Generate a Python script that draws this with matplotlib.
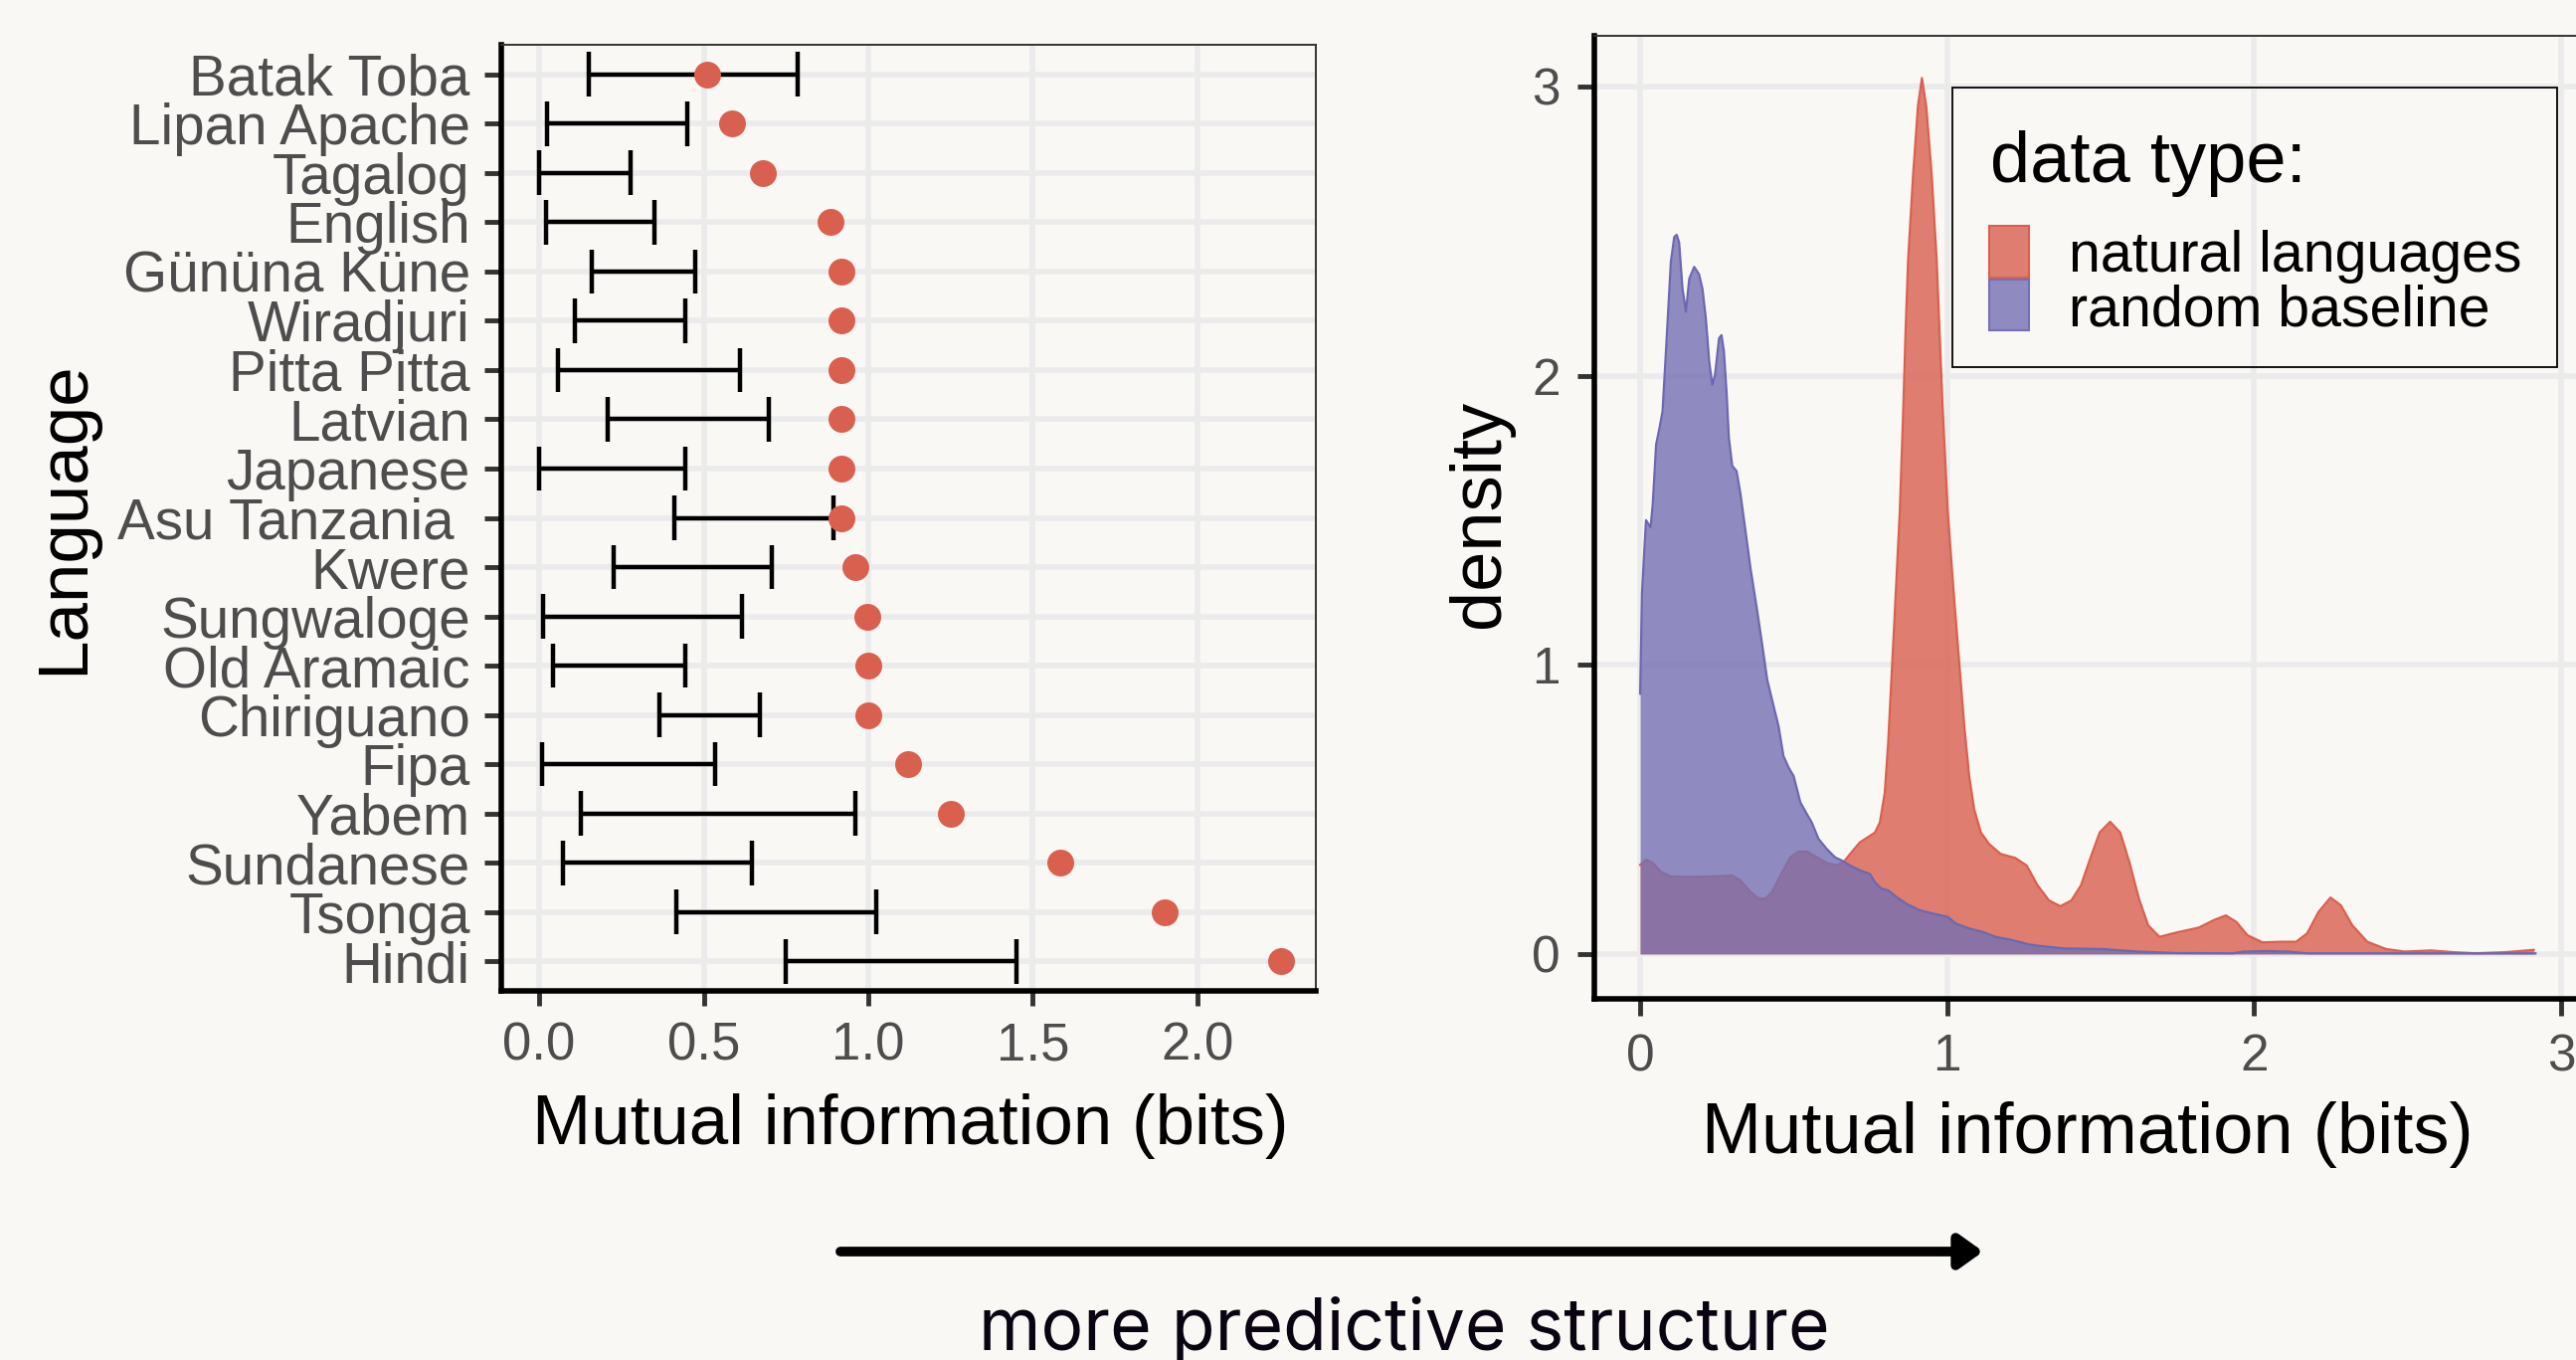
import matplotlib
matplotlib.use('Agg')
from matplotlib import pyplot as plt
from matplotlib.patches import Rectangle, FancyArrowPatch
from matplotlib.colors import to_rgba

plt.rcParams['font.family'] = ['Liberation Sans', 'DejaVu Sans']

# left panel: per-language mutual information with baseline range
languages = ['Batak Toba', 'Lipan Apache', 'Tagalog', 'English', 'Gününa Küne',
             'Wiradjuri', 'Pitta Pitta', 'Latvian', 'Japanese', 'Asu Tanzania ',
             'Kwere', 'Sungwaloge', 'Old Aramaic', 'Chiriguano', 'Fipa', 'Yabem',
             'Sundanese', 'Tsonga', 'Hindi']
mi_value = [0.51, 0.585, 0.68, 0.886, 0.92, 0.92, 0.92, 0.92, 0.92, 0.92,
            0.961, 0.997, 1.0, 1.0, 1.12, 1.25, 1.583, 1.90, 2.254]
baseline_lo = [0.15, 0.025, 0.0, 0.022, 0.16, 0.11, 0.058, 0.209, 0.0, 0.412,
               0.227, 0.012, 0.043, 0.365, 0.009, 0.126, 0.071, 0.417, 0.75]
baseline_hi = [0.785, 0.449, 0.277, 0.35, 0.475, 0.443, 0.61, 0.698, 0.443, 0.893,
               0.706, 0.615, 0.443, 0.672, 0.534, 0.96, 0.646, 1.023, 1.45]

# right panel: density curves
nl_x = [0.0, 0.020, 0.041, 0.068, 0.100, 0.154, 0.241, 0.300, 0.327, 0.360,
        0.386, 0.408, 0.430, 0.457, 0.489, 0.516, 0.543, 0.576, 0.608, 0.640,
        0.662, 0.689, 0.716, 0.738, 0.765, 0.781, 0.797, 0.808, 0.819, 0.830,
        0.846, 0.857, 0.865, 0.873, 0.889, 0.905, 0.918, 0.932, 0.950, 0.966,
        0.975, 0.986, 1.002, 1.020, 1.040, 1.056, 1.072, 1.088, 1.110, 1.137,
        1.174, 1.222, 1.259, 1.295, 1.332, 1.369, 1.405, 1.436, 1.466, 1.497,
        1.531, 1.564, 1.594, 1.625, 1.655, 1.692, 1.747, 1.820, 1.869, 1.908,
        1.942, 1.978, 2.027, 2.088, 2.137, 2.173, 2.210, 2.249, 2.283, 2.320,
        2.369, 2.430, 2.490, 2.576, 2.649, 2.722, 2.820, 2.911]
nl_y = [0.308, 0.326, 0.315, 0.283, 0.268, 0.266, 0.268, 0.271, 0.254, 0.214,
        0.191, 0.191, 0.214, 0.271, 0.334, 0.354, 0.354, 0.334, 0.315, 0.306,
        0.317, 0.352, 0.386, 0.401, 0.420, 0.455, 0.558, 0.730, 0.959, 1.189,
        1.533, 1.877, 2.163, 2.40, 2.69, 2.932, 3.029, 2.932, 2.69, 2.40,
        2.163, 1.877, 1.533, 1.27, 1.0, 0.787, 0.615, 0.501, 0.420, 0.38,
        0.346, 0.332, 0.306, 0.237, 0.185, 0.165, 0.185, 0.237, 0.329, 0.420,
        0.457, 0.420, 0.317, 0.191, 0.099, 0.059, 0.074, 0.091, 0.117, 0.133,
        0.111, 0.065, 0.040, 0.042, 0.042, 0.071, 0.145, 0.195, 0.168, 0.099,
        0.042, 0.017, 0.008, 0.012, 0.006, 0.002, 0.006, 0.014]
rb_x = [0.0, 0.006, 0.019, 0.034, 0.041, 0.052, 0.063, 0.073, 0.084, 0.100,
        0.111, 0.119, 0.127, 0.138, 0.149, 0.160, 0.176, 0.192, 0.203, 0.214,
        0.225, 0.235, 0.244, 0.257, 0.265, 0.273, 0.282, 0.289, 0.300, 0.314,
        0.327, 0.343, 0.360, 0.381, 0.397, 0.414, 0.435, 0.451, 0.467, 0.484,
        0.500, 0.522, 0.543, 0.559, 0.581, 0.608, 0.635, 0.657, 0.684, 0.716,
        0.748, 0.765, 0.786, 0.808, 0.835, 0.867, 0.910, 0.953, 1.002, 1.029,
        1.072, 1.116, 1.158, 1.212, 1.266, 1.299, 1.381, 1.503, 1.625, 1.747,
        1.930, 1.966, 2.039, 2.112, 2.173, 2.917]
rb_y = [0.90, 1.25, 1.50, 1.475, 1.556, 1.762, 1.819, 1.877, 2.084, 2.393,
        2.479, 2.487, 2.46, 2.30, 2.221, 2.335, 2.376, 2.35, 2.30, 2.198,
        2.049, 1.968, 2.003, 2.129, 2.14, 2.083, 1.934, 1.785, 1.688, 1.670,
        1.590, 1.464, 1.33, 1.189, 1.074, 0.948, 0.856, 0.787, 0.684, 0.644,
        0.615, 0.524, 0.484, 0.455, 0.398, 0.363, 0.334, 0.323, 0.306, 0.289,
        0.277, 0.248, 0.226, 0.220, 0.197, 0.174, 0.151, 0.140, 0.128, 0.105,
        0.088, 0.076, 0.059, 0.048, 0.033, 0.028, 0.019, 0.017, 0.008, 0.003,
        0.002, 0.008, 0.010, 0.008, 0.002, 0.002]

bg = '#FAF8F5'
red = '#D9604F'
purple = '#7570B3'
grid_col = '#EBEBEB'
tick_col = '#4D4D4D'

W, H = 2590, 1367
def fx(px):
    return px / W
def fy(py):
    return 1 - py / H

fig = plt.figure(figsize=(W / 100, H / 100), dpi=100, facecolor=bg)

def style_axes(ax):
    ax.set_facecolor(bg)
    ax.set_axisbelow(True)
    ax.grid(True, color=grid_col, lw=4)
    for side in ['top', 'right']:
        ax.spines[side].set_linewidth(1.4)
        ax.spines[side].set_color('#333333')
    for side in ['left', 'bottom']:
        ax.spines[side].set_linewidth(4)
        ax.spines[side].set_color('black')

# Left panel
ax1 = fig.add_axes([fx(504), fy(996), 819 / W, 951 / H])
style_axes(ax1)
ypos = list(range(len(languages)))
ax1.hlines(ypos, baseline_lo, baseline_hi, color='black', lw=3.2, zorder=2)
ax1.vlines(baseline_lo, [y - 0.45 for y in ypos], [y + 0.45 for y in ypos], color='black', lw=3.2, zorder=2)
ax1.vlines(baseline_hi, [y - 0.45 for y in ypos], [y + 0.45 for y in ypos], color='black', lw=3.2, zorder=2)
ax1.scatter(mi_value, ypos, s=377, color=red, linewidths=0, zorder=3)
ax1.set_xlim(-0.115, 2.36)
ax1.set_ylim(18.6, -0.6)
ax1.set_yticks(ypos)
ax1.set_yticklabels(languages)
ax1.set_xticks([0.0, 0.5, 1.0, 1.5, 2.0])
ax1.set_xticklabels(['0.0', '0.5', '1.0', '1.5', '2.0'])
ax1.tick_params(axis='y', length=12, width=3.5, color='#333333', pad=10.5, labelsize=40.8, labelcolor=tick_col)
ax1.tick_params(axis='x', length=11, width=3.5, color='#333333', pad=11, labelsize=38, labelcolor=tick_col)
ax1.set_xlabel('Mutual information (bits)', fontsize=51, color='black')
ax1.xaxis.set_label_coords(0.502, -0.108)
ax1.set_ylabel('Language', fontsize=51, color='black')
ax1.yaxis.set_label_coords(-0.495, 0.5)

# Right panel
ax2 = fig.add_axes([fx(1603.4), fy(1003.6), 996.2 / W, 967.9 / H])
style_axes(ax2)
ax2.fill_between(nl_x, 0, nl_y, color=red, alpha=0.8, lw=0, zorder=2)
ax2.plot(nl_x, nl_y, color=red, lw=1.6, zorder=2)
ax2.fill_between(rb_x, 0, rb_y, color=purple, alpha=0.8, lw=0, zorder=3)
ax2.plot(rb_x, rb_y, color='#6C68B0', lw=1.6, zorder=3)
ax2.set_xlim(-0.148, 3.08)
ax2.set_ylim(-0.154, 3.176)
ax2.set_xticks([0, 1, 2, 3])
ax2.set_yticks([0, 1, 2, 3])
ax2.tick_params(axis='both', length=12, width=3.5, color='#333333', labelsize=37, labelcolor=tick_col)
ax2.tick_params(axis='y', pad=13)
ax2.tick_params(axis='x', pad=13)
ax2.set_xlabel('Mutual information (bits)', fontsize=52, color='black')
ax2.xaxis.set_label_coords(0.4975, -0.107)
ax2.set_ylabel('density', fontsize=52, color='black')
ax2.yaxis.set_label_coords(-0.0817, 0.503)

# legend box
fig.add_artist(Rectangle((fx(1963), fy(369)), (2571 - 1963) / W, (369 - 88) / H,
                         transform=fig.transFigure, fill=False, ec='black', lw=1.3))
fig.text(fx(2001), fy(183), 'data type:', fontsize=52, ha='left', va='baseline')
fig.add_artist(Rectangle((fx(2000), fy(279)), 40 / W, 52 / H, transform=fig.transFigure,
                         fc=to_rgba(red, 0.8), ec=red, lw=1.5))
fig.add_artist(Rectangle((fx(2000), fy(332)), 40 / W, 51 / H, transform=fig.transFigure,
                         fc=to_rgba(purple, 0.8), ec=purple, lw=1.5))
fig.text(fx(2080), fy(273), 'natural languages', fontsize=41.2, ha='left', va='baseline')
fig.text(fx(2080), fy(327), 'random baseline', fontsize=41.2, ha='left', va='baseline')

# arrow and caption at the bottom
fig.add_artist(FancyArrowPatch((fx(845), fy(1258)), (fx(1994), fy(1258)), transform=fig.transFigure,
                               arrowstyle='-|>,head_length=14,head_width=10', mutation_scale=1,
                               lw=7, color='black', shrinkA=0, shrinkB=0))
fig.text(fx(1412), fy(1357), 'more predictive structure', fontsize=51.4, family=['Inter', 'DejaVu Sans'],
         ha='center', va='baseline', color='#0a0412')

fig.savefig('out.png', dpi=100, facecolor=bg)
